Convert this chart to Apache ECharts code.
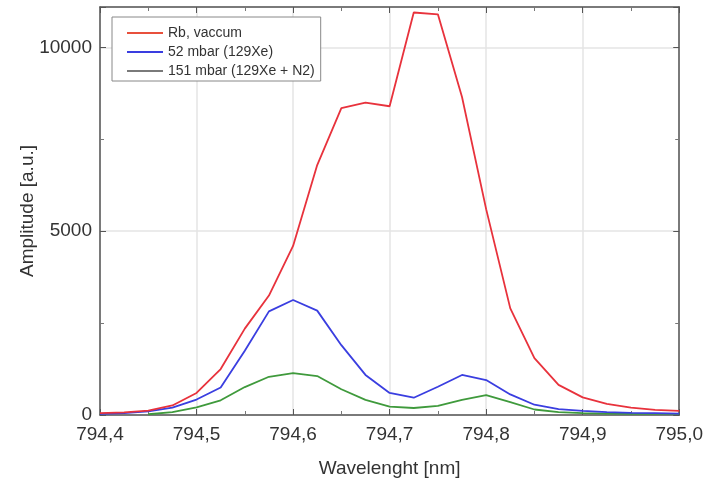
<!DOCTYPE html>
<html>
<head>
<meta charset="utf-8">
<script src="https://cdn.jsdelivr.net/npm/echarts@6/dist/echarts.min.js"></script>
<style>
  html, body { margin: 0; padding: 0; background: #fff; }
  #chart { width: 706px; height: 483px; }
</style>
</head>
<body>
<div id="chart"></div>
<script>
// wavelengths in nm, one sample every 0.025
const wavelengths = [
    794.400, 794.425, 794.450, 794.475, 794.500, 794.525, 794.550, 794.575, 794.600,
    794.625, 794.650, 794.675, 794.700, 794.725, 794.750, 794.775, 794.800, 794.825,
    794.850, 794.875, 794.900, 794.925, 794.950, 794.975, 795.000
];
const seriesNames = ['Rb, vaccum', '52 mbar (129Xe)', '151 mbar (129Xe + N2)'];
const rbVacuum = [
    50, 70, 120, 260, 600, 1250, 2350, 3250, 4600,
    6800, 8350, 8500, 8400, 10950, 10900, 8650, 5600, 2900,
    1550, 820, 480, 300, 200, 140, 110
];
const xe52 = [
    30, 50, 100, 200, 420, 750, 1750, 2820, 3130,
    2840, 1900, 1090, 600, 470, 770, 1090, 950, 560,
    280, 160, 110, 80, 60, 50, 40
];
const xeN2151 = [
    null, null, 20, 80, 210, 400, 760, 1040, 1140,
    1060, 700, 410, 230, 190, 250, 410, 540, 350,
    150, 80, 50, 40, 30, 30, 30
];
const xTicks = { min: 794.4, max: 795.0, step: 0.1 };
const yTicks = { min: 0, max: 11100, step: 5000 };

const FONT = '"Liberation Sans", Arial, sans-serif';
const colors = ['#e8323c', '#3a3ee0', '#3f9a3c'];
const legendColors = ['#e8503c', '#3a3ee0', '#7a7a7a'];

function pairs(values) {
    return wavelengths.map((w, i) => [w, values[i]]);
}

function mirrorAxis(base, pos) {
    return Object.assign({}, base, {
        position: pos,
        name: '',
        axisLabel: { show: false },
        splitLine: { show: false }
    });
}

const chart = echarts.init(document.getElementById('chart'));

const xAxisBase = {
    type: 'value',
    min: xTicks.min,
    max: xTicks.max,
    interval: xTicks.step,
    axisLine: { show: true, onZero: false, lineStyle: { color: '#555', width: 1.5 } },
    axisTick: { show: true, inside: true, length: 6, lineStyle: { color: '#555' } },
    minorTick: { show: true, splitNumber: 2, length: 4, lineStyle: { color: '#777' } },
    splitLine: { show: true, lineStyle: { color: '#e4e4e4', width: 1.5 } },
    axisLabel: {
        margin: 10,
        fontSize: 19,
        color: '#333',
        fontFamily: FONT,
        formatter: v => v.toFixed(1).replace('.', ',')
    }
};

const yAxisBase = {
    type: 'value',
    min: yTicks.min,
    max: yTicks.max,
    interval: yTicks.step,
    axisLine: { show: true, lineStyle: { color: '#555', width: 1.5 } },
    axisTick: { show: true, inside: true, length: 6, lineStyle: { color: '#555' } },
    minorTick: { show: true, splitNumber: 2, length: 4, lineStyle: { color: '#777' } },
    splitLine: { show: true, lineStyle: { color: '#e4e4e4', width: 1.5 } },
    axisLabel: {
        margin: 8,
        fontSize: 19,
        color: '#333',
        fontFamily: FONT,
        showMaxLabel: false,
        formatter: v => String(v)
    }
};

const option = {
    backgroundColor: '#fff',
    animation: false,
    grid: { left: 100, right: 26, top: 7, bottom: 68 },
    legend: {
        orient: 'vertical',
        left: 112,
        top: 17,
        padding: [9, 6, 3, 15],
        itemGap: 5,
        itemWidth: 36,
        itemHeight: 2,
        icon: 'rect',
        backgroundColor: '#fff',
        borderColor: '#888',
        borderWidth: 1,
        textStyle: { fontSize: 14, color: '#333', fontFamily: FONT, lineHeight: 14 },
        data: seriesNames.map((n, i) => ({ name: n, itemStyle: { color: legendColors[i] } }))
    },
    xAxis: [
        Object.assign({}, xAxisBase, {
            name: 'Wavelenght [nm]',
            nameLocation: 'middle',
            nameGap: 44,
            nameMoveOverlap: false,
            nameTextStyle: { fontSize: 19, color: '#333', fontFamily: FONT }
        }),
        mirrorAxis(xAxisBase, 'top')
    ],
    yAxis: [
        Object.assign({}, yAxisBase, {
            name: 'Amplitude [a.u.]',
            nameLocation: 'middle',
            nameGap: 63,
            nameMoveOverlap: false,
            nameTextStyle: { fontSize: 19, color: '#333', fontFamily: FONT }
        }),
        mirrorAxis(yAxisBase, 'right')
    ],
    series: [rbVacuum, xe52, xeN2151].map((vals, i) => ({
        name: seriesNames[i],
        type: 'line',
        xAxisIndex: 0,
        yAxisIndex: 0,
        symbol: 'none',
        color: colors[i],
        lineStyle: { width: 1.8, color: colors[i] },
        data: pairs(vals),
        z: 3 - i
    }))
};

chart.setOption(option);
</script>
</body>
</html>
